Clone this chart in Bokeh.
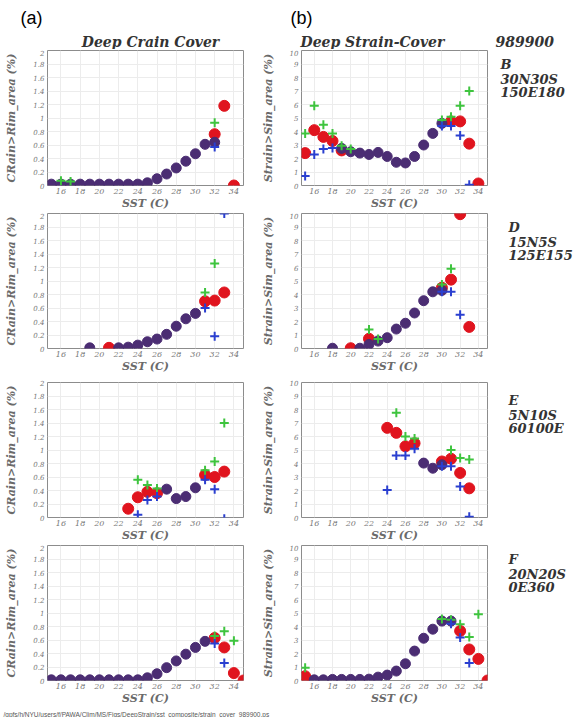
import numpy as np
from bokeh.plotting import figure
from bokeh.layouts import column, row
from bokeh.models import FixedTicker
from bokeh.core.properties import value
from bokeh.embed import file_html
from bokeh.resources import INLINE

N = None

# ---------------- data ----------------
sst = list(range(15, 36))  # SST bins (C)
x_ticks = [16, 18, 20, 22, 24, 26, 28, 30, 32, 34]
crain_ticks = [0, 0.2, 0.4, 0.6, 0.8, 1, 1.2, 1.4, 1.6, 1.8, 2]
crain_tick_labels = ["0", "0.2", "0.4", "0.6", "0.8", "1", "1.2", "1.4", "1.6", "1.8", "2"]
strain_ticks = [0, 1, 2, 3, 4, 5, 6, 7, 8, 9, 10]
strain_tick_labels = ["0", "1", "2", "3", "4", "5", "6", "7", "8", "9", "10"]

panel_tags = ["(a)", "(b)"]
col_titles = ["Deep Crain Cover", "Deep Strain-Cover", "989900"]
region_names = ["B", "D", "E", "F"]
region_lat = ["30N30S", "15N5S", "5N10S", "20N20S"]
region_lon = ["150E180", "125E155", "60100E", "0E360"]
footnote = "/gpfs/h/NYU/users/f/PAWA/Clim/MS/Figs/DeepStrain/sst_composite/strain_cover_989900.ps"

# Left column: Deep Crain Cover (%)   index 0..20 -> SST 15..35
B_crain_all   = [.02, .02, .02, .02, .02, .02, .02, .02, .02, .02, .04, .10, .17, .26, .36, .47, .61, .64, N, N, N]
B_crain_red   = [N, N, N, N, N, N, N, N, N, N, N, N, N, N, N, N, N, .76, 1.18, 0.0, N]
B_crain_green = [N, .07, .06, N, N, N, N, N, N, N, N, N, N, N, N, N, N, .93, N, N, N]
B_crain_blue  = [N, N, N, N, N, N, N, N, N, N, N, N, N, N, N, N, N, .57, N, N, N]

D_crain_all   = [N, N, N, N, .01, N, N, .01, .02, .05, .10, .14, .21, .33, .44, .52, N, N, N, N, N]
D_crain_red   = [N, N, N, N, N, N, .01, N, N, N, N, N, N, N, N, N, .70, .71, .83, N, N]
D_crain_green = [N, N, N, N, N, N, N, N, N, N, N, N, N, N, N, N, .83, 1.26, N, N, N]
D_crain_blue  = [N, N, N, N, N, N, N, N, N, N, N, N, N, N, N, N, .60, .18, 2.0, N, N]

E_crain_all   = [N, N, N, N, N, N, N, N, N, N, N, N, .42, .28, .31, .44, N, N, N, N, N]
E_crain_red   = [N, N, N, N, N, N, N, N, .13, .30, .38, .36, N, N, N, N, .63, .60, .68, N, N]
E_crain_green = [N, N, N, N, N, N, N, N, N, .56, .48, .43, N, N, N, N, .70, .83, 1.40, N, N]
E_crain_blue  = [N, N, N, N, N, N, N, N, N, .04, .26, .31, N, N, N, N, .56, .42, -.02, N, N]

F_crain_all   = [.01, .01, .01, .01, .01, .01, .01, .01, .01, .01, .04, .10, .19, .29, .39, .49, .58, N, N, N, N]
F_crain_red   = [N, N, N, N, N, N, N, N, N, N, N, N, N, N, N, N, N, .63, .49, .11, 0.0]
F_crain_green = [N, N, N, N, N, N, N, N, N, N, N, N, N, N, N, N, N, .66, .73, .59, N]
F_crain_blue  = [N, N, N, N, N, N, N, N, N, N, N, N, N, N, N, N, N, .55, .26, -.30, N]

# Right column: Deep Strain-Cover (%)
B_strain_all   = [N, N, N, N, 2.75, 2.5, 2.4, 2.3, 2.45, 2.15, 1.72, 1.67, 2.15, 3.0, 3.86, 4.6, N, N, N, N, N]
B_strain_red   = [2.4, 4.1, 3.6, 3.3, 2.6, N, N, N, N, N, N, N, N, N, N, N, 4.75, 4.75, 3.1, .15, N]
B_strain_green = [3.86, 5.9, 4.5, 3.86, 2.95, 2.7, N, N, N, N, N, N, N, N, N, 4.85, 5.1, 5.9, 7.0, N, N]
B_strain_blue  = [.7, 2.3, 2.7, 2.77, N, N, N, N, N, N, N, N, N, N, N, 4.4, 4.4, 3.7, .05, N, N]

D_strain_all   = [N, N, N, .02, N, N, .02, .3, .55, .8, 1.44, 1.87, 2.63, 3.54, 4.2, 4.3, N, N, N, N, N]
D_strain_red   = [N, N, N, N, N, .02, N, .72, N, N, N, N, N, N, N, 4.5, 5.1, 9.95, 1.6, N, N]
D_strain_green = [N, N, N, N, N, N, N, 1.4, .7, N, N, N, N, N, N, 4.74, 5.9, N, N, N, N]
D_strain_blue  = [N, N, N, N, N, N, N, N, N, N, N, N, N, N, N, 4.2, 4.2, 2.5, N, N, N]

E_strain_all   = [N, N, N, N, N, N, N, N, N, N, N, N, N, 4.03, 3.65, 3.9, N, N, N, N, N]
E_strain_red   = [N, N, N, N, N, N, N, N, N, 6.64, 6.27, 5.27, 5.5, N, N, 4.15, 4.35, 3.3, 2.16, N, N]
E_strain_green = [N, N, N, N, N, N, N, N, N, N, 7.76, 6.0, 5.85, N, N, N, 5.0, 4.4, 4.3, N, N]
E_strain_blue  = [N, N, N, N, N, N, N, N, N, 2.04, 4.6, 4.6, 5.1, N, N, 3.8, 3.8, 2.3, .05, N, N]

F_strain_all   = [N, .05, .05, .08, .08, .08, .08, .1, .25, .4, .7, 1.24, 2.18, 3.13, 3.8, 4.4, 4.4, N, N, N, N]
F_strain_red   = [.32, N, N, N, N, N, N, N, N, N, N, N, N, N, N, N, N, 3.67, 2.3, 1.6, 0.0]
F_strain_green = [.94, N, N, N, N, N, N, N, N, N, N, N, N, N, N, 4.55, 4.5, 4.17, 3.23, 4.9, N]
F_strain_blue  = [-.4, N, N, N, N, N, N, N, N, N, N, N, N, N, N, N, 4.2, 3.18, 1.3, -1.74, N]

# ---------------- layout / style ----------------
HEADER_H = 49
FOOT_H = 10
FRAME_H = 136
TOPS = [1, 1, 7, 1]
BOT = 26
XR = (14.6, 35.0)
SIDE = {
    "L": dict(w=258, bl=47, br=15, ymax=2, ticks=crain_ticks, labels=crain_tick_labels,
              ylabel="CRain>Rim_area (%)"),
    "R": dict(w=230, bl=34, br=1, ymax=10, ticks=strain_ticks, labels=strain_tick_labels,
              ylabel="Strain>Sim_area (%)"),
}
REG_W = 88
C_PURPLE = "#4b2d73"
C_RED = "#e0141e"
C_GREEN = "#3ec43e"
C_BLUE = "#2a3fd0"
SERIF = "DejaVu Serif"


def arr(v):
    return np.array([np.nan if a is None else a for a in v], dtype=float)


def text_fig(w, h):
    p = figure(width=w, height=h, x_range=(0, w), y_range=(h, 0),
               x_axis_location=None, y_axis_location=None,
               toolbar_location=None, output_backend="svg", title=None, min_border=0)
    p.grid.visible = False
    p.outline_line_color = None
    p.background_fill_color = "white"
    p.border_fill_color = "white"
    return p


def put_text(p, xs, ys, texts, size, font=SERIF, style="bold italic", color="#333333",
             align="left"):
    p.text(x=xs, y=ys, text=texts, text_font=value(font), text_font_size=value(size),
           text_font_style=style, text_color=color, text_align=align, text_baseline="middle")


def panel(side, r, all_v, red, green, blue):
    s = SIDE[side]
    h = TOPS[r] + FRAME_H + BOT
    p = figure(width=s["w"], height=h, x_range=XR, y_range=(0, s["ymax"]),
               min_border_left=s["bl"], min_border_right=s["br"],
               min_border_top=TOPS[r], min_border_bottom=BOT,
               toolbar_location=None, output_backend="svg", title=None)
    p.background_fill_color = "white"
    p.border_fill_color = "white"
    p.outline_line_color = "#8c8c8c"
    p.grid.grid_line_color = "#ececec"

    p.xaxis.ticker = FixedTicker(ticks=x_ticks)
    p.yaxis.ticker = FixedTicker(ticks=s["ticks"])
    p.yaxis.major_label_overrides = {t: l for t, l in zip(s["ticks"], s["labels"])}
    for ax in (p.xaxis[0], p.yaxis[0]):
        ax.major_tick_line_color = None
        ax.major_tick_out = 0
        ax.major_tick_in = 0
        ax.minor_tick_line_color = None
        ax.minor_tick_out = 0
        ax.minor_tick_in = 0
        ax.axis_line_color = None
        ax.major_label_text_font = SERIF
        ax.major_label_text_font_style = "italic"
        ax.major_label_text_color = "#777777"
        ax.axis_label_text_font = SERIF
        ax.axis_label_text_font_style = "bold italic"
        ax.axis_label_text_color = "#6a6a6a"
    p.xaxis.major_label_text_font_size = "8px"
    p.yaxis.major_label_text_font_size = "7px"
    p.xaxis.major_label_standoff = 3
    p.yaxis.major_label_standoff = 3
    p.xaxis.axis_label = "SST (C)"
    p.xaxis.axis_label_text_font_size = "11px"
    p.xaxis.axis_label_standoff = 0
    p.yaxis.axis_label = s["ylabel"]
    p.yaxis.axis_label_text_font_size = "11px"
    p.yaxis.axis_label_standoff = 12

    p.scatter(sst, arr(red), marker="circle", size=11, color=C_RED)
    p.scatter(sst, arr(all_v), marker="circle", size=10, color=C_PURPLE)
    p.scatter(sst, arr(green), marker="cross", size=9, line_width=2, color=C_GREEN)
    p.scatter(sst, arr(blue), marker="cross", size=9, line_width=2, color=C_BLUE)
    return p


def region_fig(r):
    h = TOPS[r] + FRAME_H + BOT
    g = text_fig(REG_W, h)
    X = 12 if r == 0 else 20
    top = TOPS[r]
    put_text(g, [X, X, X], [top + 16, top + 34, top + 50],
             [region_names[r], region_lat[r], region_lon[r]], "13px")
    return g


left_data = [
    (B_crain_all, B_crain_red, B_crain_green, B_crain_blue),
    (D_crain_all, D_crain_red, D_crain_green, D_crain_blue),
    (E_crain_all, E_crain_red, E_crain_green, E_crain_blue),
    (F_crain_all, F_crain_red, F_crain_green, F_crain_blue),
]
right_data = [
    (B_strain_all, B_strain_red, B_strain_green, B_strain_blue),
    (D_strain_all, D_strain_red, D_strain_green, D_strain_blue),
    (E_strain_all, E_strain_red, E_strain_green, E_strain_blue),
    (F_strain_all, F_strain_red, F_strain_green, F_strain_blue),
]

# header: panel tags and column titles
header = text_fig(576, HEADER_H)
put_text(header, [31, 301], [17, 17], panel_tags, "18px", font="Liberation Sans", style="normal",
         color="#000000", align="center")
put_text(header, [150], [41], [col_titles[0]], "14px", align="center")
put_text(header, [300, 495], [41, 41], col_titles[1:], "14px")

footer = text_fig(576, FOOT_H)
put_text(footer, [3], [5], [footnote], "6.5px", font="Liberation Sans", style="normal",
         color="#555555")

rows = [header]
for r in range(4):
    pl = panel("L", r, *left_data[r])
    pr = panel("R", r, *right_data[r])
    rows.append(row(pl, pr, region_fig(r)))
rows.append(footer)

layout = column(*rows)
open("out.html", "w").write(file_html(layout, INLINE))
